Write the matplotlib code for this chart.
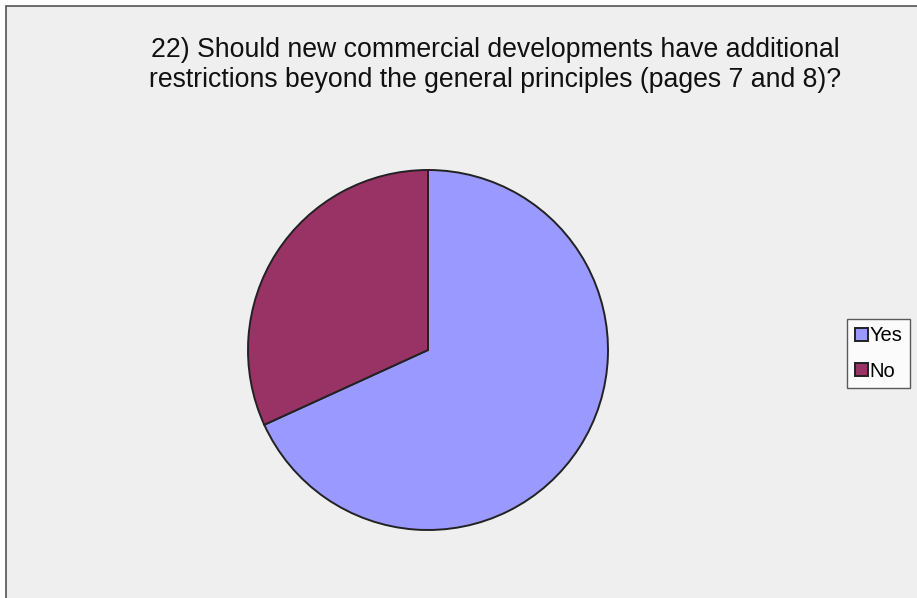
import matplotlib.pyplot as plt
from matplotlib.patches import Rectangle

# data
labels = ['Yes', 'No']
counts = [15, 7]
colours = ['#9999FF', '#993366']
title = ('22) Should new commercial developments have additional\n'
         'restrictions beyond the general principles (pages 7 and 8)?')

W, H = 917, 598
fig = plt.figure(figsize=(W / 100, H / 100), dpi=100)
fig.patch.set_facecolor('white')

# chart area with grey border (cut off on right and bottom)
fig.patches.append(Rectangle((6 / W, -0.05), 1.1, (H - 6) / H + 0.05,
                             transform=fig.transFigure, facecolor='#EFEFEF',
                             edgecolor='#555555', linewidth=1.2, zorder=-5))

fig.text(495 / W, 1 - 65 / H, title, ha='center', va='center',
         fontsize=19.2, family='Liberation Sans', color='#111111',
         linespacing=1.2, zorder=3)

cx, cy, r = 428, 350, 180
ax = fig.add_axes([(cx - r) / W, (H - cy - r) / H, 2 * r / W, 2 * r / H])
ax.set_zorder(2)
ax.patch.set_visible(False)
wedges, _ = ax.pie(counts, colors=colours, startangle=90, counterclock=False,
                   radius=1,
                   wedgeprops=dict(edgecolor='#222222', linewidth=1.4))
ax.set_xlim(-1, 1)
ax.set_ylim(-1, 1)
ax.set_aspect('equal')
ax.axis('off')

leg = fig.legend(wedges, labels, loc='center', bbox_to_anchor=(878.5 / W, 1 - 353.5 / H),
                 frameon=True, fancybox=False, edgecolor='#333333',
                 prop={'family': 'Liberation Sans', 'size': 14.5},
                 handlelength=0.65, handleheight=0.65, handletextpad=0.1,
                 borderpad=0.35, labelspacing=0.8, borderaxespad=0)
leg.get_frame().set_linewidth(1.0)
leg.get_frame().set_facecolor('white')
leg.set_zorder(4)

fig.savefig('out.png', dpi=100)
